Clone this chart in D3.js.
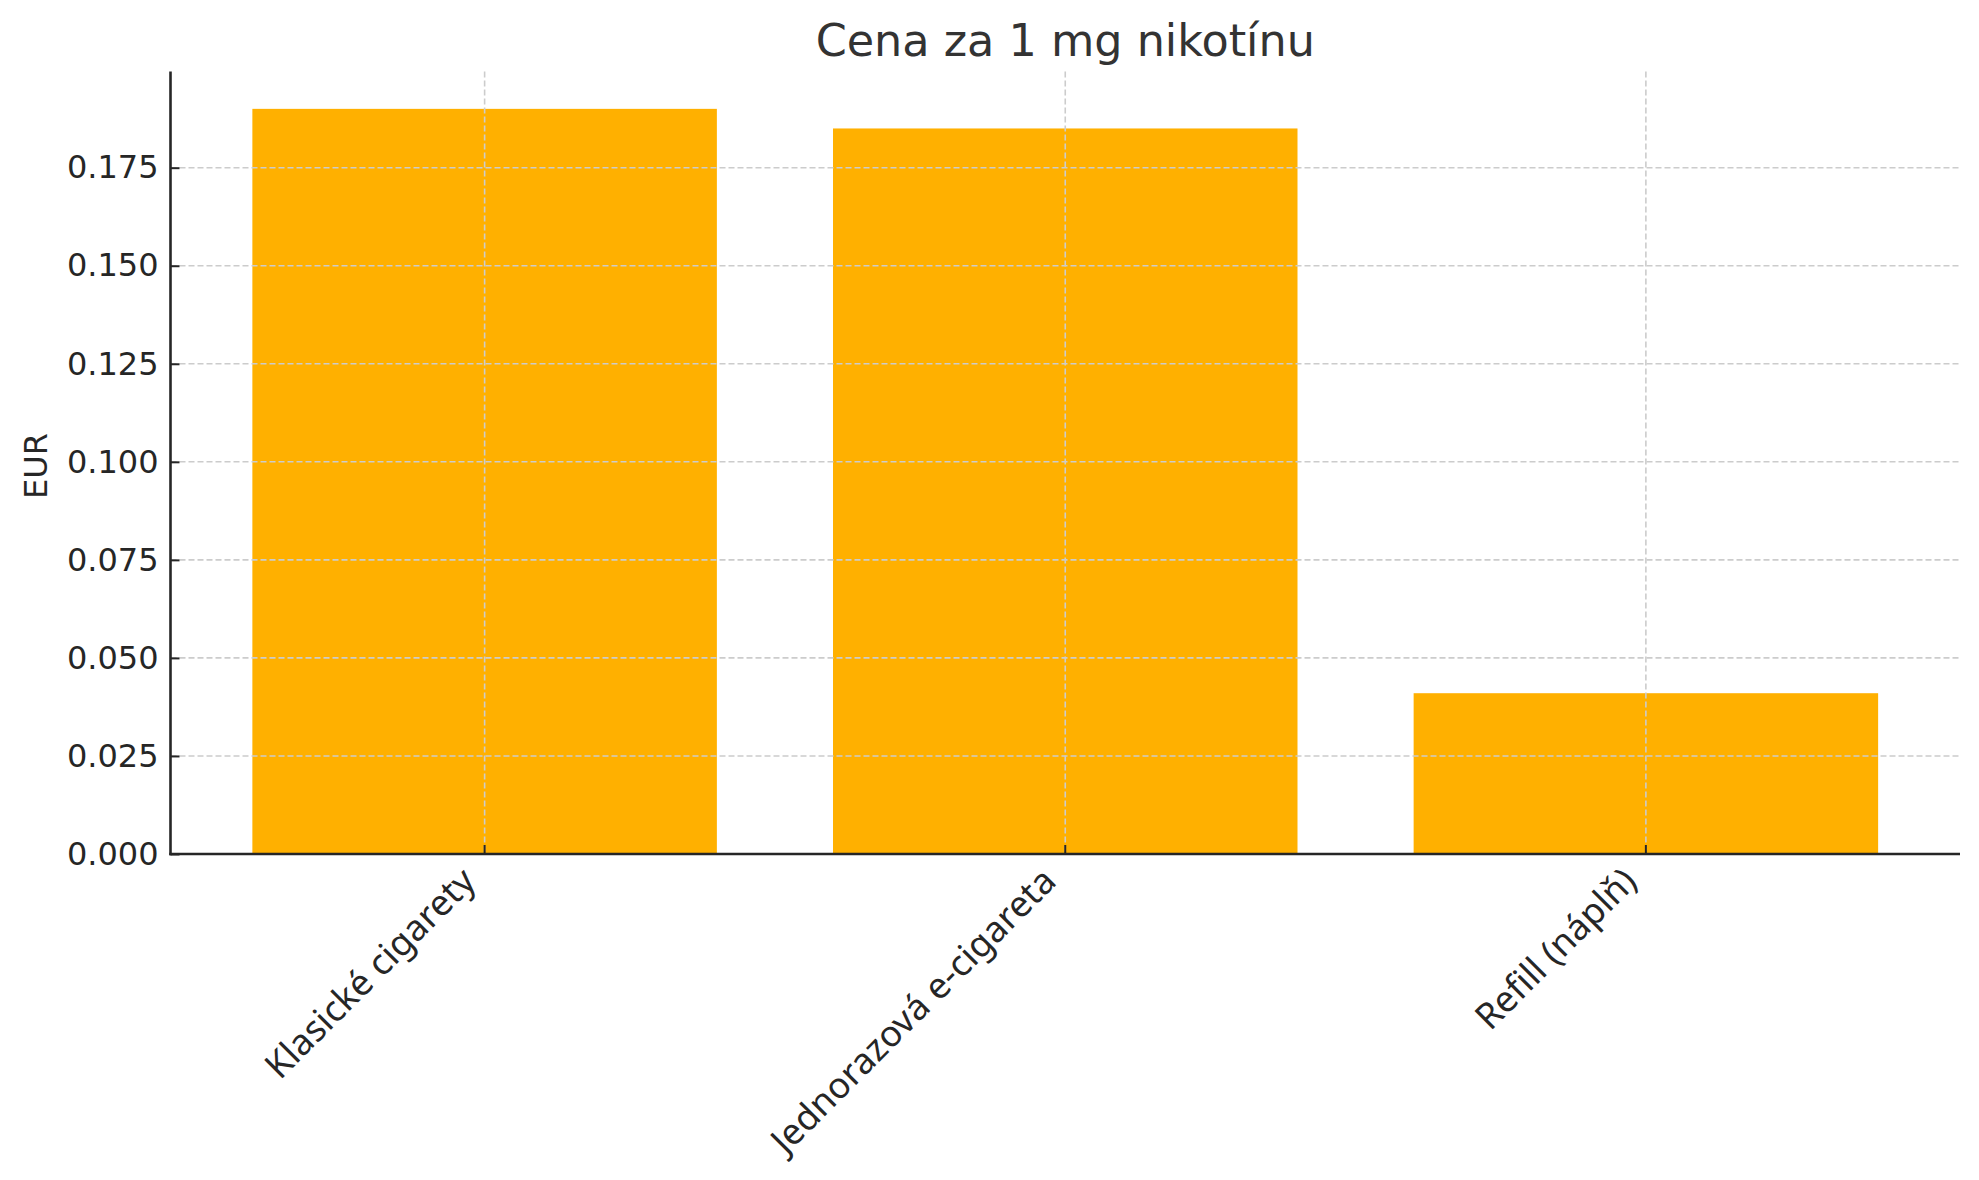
<!DOCTYPE html>
<html>
<head>
<meta charset="utf-8">
<script src="https://cdn.jsdelivr.net/npm/d3@7"></script>
<style>
  html, body { margin: 0; padding: 0; background: #fff; }
  svg { display: block; }
  text { font-family: "DejaVu Sans", sans-serif; }
</style>
</head>
<body>
<svg id="chart" width="1979" height="1180"></svg>
<script>
// ---- data ----
const categories = ["Klasické cigarety", "Jednorazová e-cigareta", "Refill (náplň)"];
const values = [0.190, 0.185, 0.041];
const yTicks = [0.000, 0.025, 0.050, 0.075, 0.100, 0.125, 0.150, 0.175];
const titleText = "Cena za 1 mg nikotínu";
const yLabelText = "EUR";

// ---- layout ----
const mLeft = 170.5, mRight = 1960, mTop = 71.6, mBottom = 854;
const svg = d3.select("#chart");

const x = d3.scaleBand()
  .domain(categories)
  .range([mLeft, mRight])
  .paddingInner(0.2)
  .paddingOuter(0.141);

const yMax = d3.max(values) * 1.05;
const y = d3.scaleLinear().domain([0, yMax]).range([mBottom, mTop]);

const gridColor = "#cccccc";
const axisColor = "#262626";

// bars
svg.append("g").selectAll("rect")
  .data(values)
  .join("rect")
  .attr("x", (d, i) => x(categories[i]))
  .attr("width", x.bandwidth())
  .attr("y", d => y(d))
  .attr("height", d => y(0) - y(d))
  .attr("fill", "#FFB000");

// grid (drawn above bars)
const grid = svg.append("g");
grid.selectAll("line.h")
  .data(yTicks.filter(t => t > 0))
  .join("line").attr("class", "h")
  .attr("x1", mLeft).attr("x2", mRight)
  .attr("y1", d => y(d)).attr("y2", d => y(d))
  .attr("stroke", gridColor).attr("stroke-width", 1.6)
  .attr("stroke-dasharray", "6,3");
grid.selectAll("line.v")
  .data(categories)
  .join("line").attr("class", "v")
  .attr("x1", d => x(d) + x.bandwidth() / 2).attr("x2", d => x(d) + x.bandwidth() / 2)
  .attr("y1", mTop).attr("y2", mBottom)
  .attr("stroke", gridColor).attr("stroke-width", 1.6)
  .attr("stroke-dasharray", "6,3");

// y axis
const yAxis = d3.axisLeft(y)
  .tickValues(yTicks)
  .tickFormat(d3.format(".3f"))
  .tickSizeInner(-9)
  .tickSizeOuter(0)
  .tickPadding(12);
const gy = svg.append("g").attr("transform", `translate(${mLeft},0)`).call(yAxis);
gy.select(".domain").remove();
gy.selectAll(".tick line").attr("stroke", axisColor).attr("stroke-width", 2);
gy.selectAll(".tick text")
  .attr("x", -12)
  .attr("fill", axisColor)
  .style("font-size", "32px")
  .style("font-family", "DejaVu Sans");

// x axis
const xAxis = d3.axisBottom(x).tickSizeInner(-9).tickSizeOuter(0).tickPadding(0);
const gx = svg.append("g").attr("transform", `translate(0,${mBottom})`).call(xAxis);
gx.select(".domain").remove();
gx.selectAll(".tick line").attr("stroke", axisColor).attr("stroke-width", 2);
const fs = 36, off = fs * 0.5 * Math.SQRT1_2;
gx.selectAll(".tick text")
  .attr("fill", axisColor)
  .style("font-size", fs + "px")
  .style("font-family", "'Noto Sans', sans-serif")
  .attr("text-anchor", "end")
  .attr("dominant-baseline", "central")
  .attr("dy", null)
  .attr("y", 0)
  .attr("transform", `translate(${-off - 4},${7 + off}) rotate(-45)`);

// spines
svg.append("line").attr("x1", mLeft).attr("x2", mLeft).attr("y1", mTop).attr("y2", mBottom + 1.25)
  .attr("stroke", axisColor).attr("stroke-width", 2.6);
svg.append("line").attr("x1", mLeft - 1.25).attr("x2", mRight).attr("y1", mBottom).attr("y2", mBottom)
  .attr("stroke", axisColor).attr("stroke-width", 2.6);

// title
svg.append("text")
  .attr("x", (mLeft + mRight) / 2)
  .attr("y", 55.5)
  .attr("text-anchor", "middle")
  .attr("fill", "#333333")
  .style("font-size", "44.5px")
  .text(titleText);

// y label
svg.append("text")
  .attr("transform", `translate(47,466) rotate(-90)`)
  .attr("text-anchor", "middle")
  .attr("fill", axisColor)
  .style("font-size", "32px")
  .text(yLabelText);
</script>
</body>
</html>
